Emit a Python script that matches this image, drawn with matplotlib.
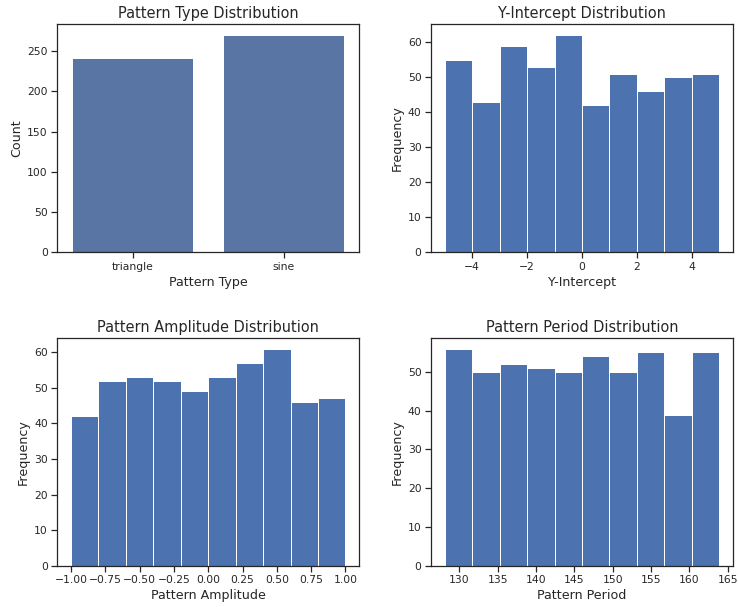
import numpy as np
import matplotlib
matplotlib.use("Agg")
import matplotlib.pyplot as plt
import seaborn as sns

# === Data
pattern_types = ["triangle", "sine"]
pattern_counts = [242, 270]

intercept_edges = np.linspace(-4.98, 4.99, 11)
intercept_counts = [55, 43, 59, 53, 62, 42, 51, 46, 50, 51]

amplitude_edges = np.linspace(-1.0, 1.0, 11)
amplitude_counts = [42, 52, 53, 52, 49, 53, 57, 61, 46, 47]

period_edges = np.linspace(128.1, 163.9, 11)
period_counts = [56, 50, 52, 51, 50, 54, 50, 55, 39, 55]

# === Style
sns.set_theme(style="ticks")
plt.rcParams.update({
    "axes.titlesize": 14.5,
    "axes.labelsize": 12.6,
    "xtick.labelsize": 10.8,
    "ytick.labelsize": 10.8,
})

fig, axes = plt.subplots(2, 2, figsize=(738 / 72, 607 / 72), dpi=72)
fig.subplots_adjust(left=0.0776, right=0.9932, top=0.96, bottom=0.068,
                    wspace=0.238, hspace=0.375)

# Pattern type counts
ax = axes[0, 0]
sns.barplot(x=pattern_types, y=pattern_counts, ax=ax, errorbar=None)
ax.set_title("Pattern Type Distribution")
ax.set_xlabel("Pattern Type")
ax.set_ylabel("Count")

def hist_panel(ax, edges, counts, title, xlabel):
    ax.hist(edges[:-1], bins=edges, weights=counts, color="#4c72b0")
    ax.set_title(title)
    ax.set_xlabel(xlabel)
    ax.set_ylabel("Frequency")

hist_panel(axes[0, 1], intercept_edges, intercept_counts,
           "Y-Intercept Distribution", "Y-Intercept")
hist_panel(axes[1, 0], amplitude_edges, amplitude_counts,
           "Pattern Amplitude Distribution", "Pattern Amplitude")
hist_panel(axes[1, 1], period_edges, period_counts,
           "Pattern Period Distribution", "Pattern Period")

fig.savefig("out.png", dpi=72)
